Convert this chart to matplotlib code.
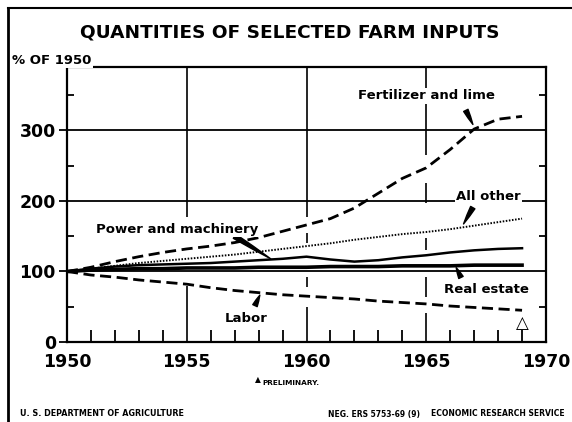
import matplotlib.pyplot as plt
from matplotlib.lines import Line2D

# Index values, % of 1950
years = list(range(1950, 1970))
fertilizer = [100, 106, 114, 121, 127, 132, 136, 141, 148, 157,
              166, 175, 190, 211, 232, 247, 273, 302, 316, 320]
all_other = [100, 104, 108, 112, 115, 118, 121, 124, 128, 132,
             136, 140, 145, 149, 153, 156, 160, 165, 170, 175]
power = [100, 104, 107, 109, 110, 111, 112, 114, 116, 118,
         121, 117, 114, 116, 120, 123, 127, 130, 132, 133]
real_estate = [100, 102, 103, 104, 104, 105, 105, 105, 106, 106,
               106, 107, 107, 107, 108, 108, 108, 109, 109, 109]
labor = [100, 95, 92, 88, 85, 82, 77, 73, 70, 67,
         65, 63, 61, 58, 56, 54, 51, 49, 47, 45]

x_ticks = [1950, 1955, 1960, 1965, 1970]
y_ticks = [0, 100, 200, 300]

W, H = 572, 422
fig = plt.figure(figsize=(W / 100, H / 100), dpi=100)
ax = fig.add_axes([67 / W, 1 - 342 / H, (546 - 67) / W, (342 - 67) / H])
ax.set_xlim(1950, 1970)
ax.set_ylim(0, 390)

# gridlines, drafted with breaks like the original
for y in [100, 200, 300]:
    ax.axhline(y, color="black", lw=1.3, zorder=1)
grid_spans = {1955: [(0, 80), (177, 390)],
              1960: [(0, 50), (78, 92), (140, 155), (177, 390)],
              1965: [(0, 41), (64, 92), (130, 148), (197, 225), (265, 390)]}
for xv, spans in grid_spans.items():
    for lo, hi in spans:
        ax.vlines(xv, lo, hi, color="black", lw=1.2, zorder=1)

# series
ax.plot(years, fertilizer, color="black", lw=2, dashes=(4, 2), zorder=3)
ax.plot(years, all_other, color="black", lw=1.4, dashes=(0.8, 0.8), zorder=3)
ax.plot(years, power, color="black", lw=1.8, zorder=3)
ax.plot(years, real_estate, color="black", lw=2.6, zorder=3)
ax.plot(years, labor, color="black", lw=2, dashes=(4, 2), zorder=3)

# axes styling
for s in ax.spines.values():
    s.set_linewidth(1.6)
ax.set_xticks(x_ticks)
ax.set_xticklabels([str(v) for v in x_ticks], fontsize=12.5, fontweight="bold")
ax.set_xticks(years[1:], minor=True)
ax.set_yticks(y_ticks)
ax.set_yticklabels([str(v) for v in y_ticks], fontsize=12.5, fontweight="bold")
ax.set_yticks([50, 150, 250, 350], minor=True)
ax.tick_params(axis="x", which="major", length=0, pad=8)
ax.tick_params(axis="x", which="minor", direction="in", length=9, width=1.3)
ax.tick_params(axis="y", which="major", direction="out", length=6, width=1.3, pad=2)
ax.tick_params(axis="y", which="minor", direction="in", length=5, width=1.3,
               right=True)

# series labels with pointers
lab = dict(fontsize=9.5, fontweight="bold", ha="center", va="center", zorder=5,
           bbox=dict(facecolor="white", edgecolor="none", pad=1))
wedge = dict(arrowstyle="wedge,tail_width=0.35,shrink_factor=0.6",
             facecolor="black", edgecolor="black")
ax.text(1965.0, 349, "Fertilizer and lime", **lab)
ax.annotate("", xy=(1967.0, 305), xytext=(1966.6, 332), arrowprops=wedge, zorder=4)
ax.text(1967.6, 207, "All other", **lab)
ax.annotate("", xy=(1966.5, 164), xytext=(1967.0, 194), arrowprops=wedge, zorder=4)
ax.text(1954.6, 160, "Power and machinery", **lab)
ax.annotate("", xy=(1958.6, 116), xytext=(1956.9, 152), arrowprops=wedge, zorder=4)
ax.text(1967.5, 75, "Real estate", **lab)
ax.annotate("", xy=(1966.2, 109), xytext=(1966.5, 88), arrowprops=wedge, zorder=4)
ax.text(1957.5, 34, "Labor", **lab)
ax.annotate("", xy=(1958.1, 70), xytext=(1957.8, 48), arrowprops=wedge, zorder=4)
ax.text(1969, 27, "\u25b3", fontsize=12, fontweight="bold", ha="center", va="center")

# figure texts
fig.text(290 / W, 1 - 33 / H, "QUANTITIES OF SELECTED FARM INPUTS",
         fontsize=13.3, fontweight="bold", ha="center", va="center")
fig.text(12 / W, 1 - 60 / H, "% OF 1950", fontsize=9.5, fontweight="bold",
         ha="left", va="center", bbox=dict(facecolor="white", edgecolor="none", pad=1))
fig.text(258 / W, 1 - 380 / H, "\u25b2", fontsize=5.5, ha="center", va="center")
fig.text(262 / W, 1 - 383 / H, "PRELIMINARY.", fontsize=5.3, fontweight="bold",
         ha="left", va="center")
fig.text(20 / W, 1 - 414 / H, "U. S. DEPARTMENT OF AGRICULTURE", fontsize=5.8,
         fontweight="bold", ha="left", va="center")
fig.text(328 / W, 1 - 414 / H, "NEG. ERS 5753-69 (9)", fontsize=5.5,
         fontweight="bold", ha="left", va="center")
fig.text(565 / W, 1 - 414 / H, "ECONOMIC RESEARCH SERVICE", fontsize=5.5,
         fontweight="bold", ha="right", va="center")

# page frame (left and top edges)
fig.add_artist(Line2D([8 / W, 8 / W], [0, 1 - 8 / H], color="black", lw=2))
fig.add_artist(Line2D([8 / W, 1], [1 - 8 / H, 1 - 8 / H], color="black", lw=1.5))

fig.savefig("out.png", dpi=100)
